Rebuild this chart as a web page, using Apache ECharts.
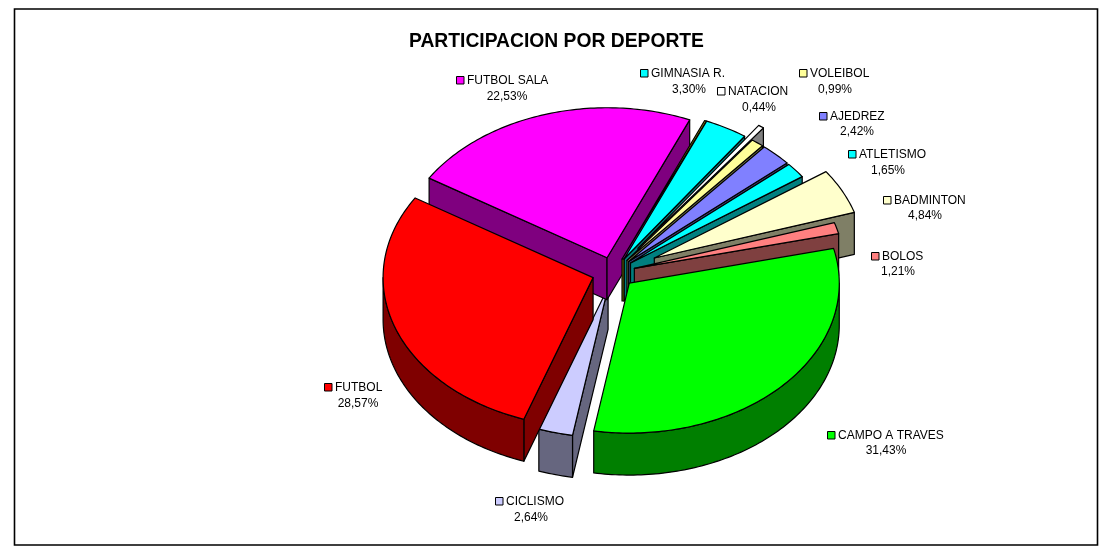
<!DOCTYPE html>
<html><head><meta charset="utf-8">
<style>html,body{margin:0;padding:0;background:#fff}#c{width:1106px;height:547px}</style>
<script src="https://cdn.jsdelivr.net/npm/echarts@6/dist/echarts.min.js"></script>
</head><body><div id="c"></div>
<script>
// Data, in the workbook's (clockwise) order
const categories = ['AJEDREZ','ATLETISMO','BADMINTON','BOLOS','CAMPO A TRAVES','CICLISMO','FUTBOL','FUTBOL SALA','GIMNASIA R.','NATACION','VOLEIBOL'];
const shares = [2.42,1.65,4.84,1.21,31.43,2.64,28.57,22.53,3.30,0.44,0.99];
const percentLabels = ['2,42%','1,65%','4,84%','1,21%','31,43%','2,64%','28,57%','22,53%','3,30%','0,44%','0,99%'];
const explosions = [0.103,0.103,0.217,0.103,0.103,0.103,0.103,0.103,0.103,0.2,0.103];
const colors = ['#8080FF','#00FFFF','#FFFFCC','#FF8080','#00FF00','#CCCCFF','#FF0000','#FF00FF','#00FFFF','#FFFFFF','#FFFF99'];
// Back-to-front painting order of the slices
const paintOrder = ['CICLISMO','FUTBOL SALA','GIMNASIA R.','NATACION','VOLEIBOL','AJEDREZ','ATLETISMO','BADMINTON','BOLOS','FUTBOL','CAMPO A TRAVES'];

// Layout of the projected pie
const PIE = {cx:613.5, cy:272.5, rx:210, ry:150, depth:42, rotation:40.2};
const FONT = 'Arial, "Liberation Sans", sans-serif';
// key left edge, centre of percent line, y of name line, y of percent line
const labelLayout = {
 'AJEDREZ':[819,857,117,132],'ATLETISMO':[848,888,155,171],'BADMINTON':[883,925,201,216],'BOLOS':[871,898,257,272],
 'CAMPO A TRAVES':[827,886,436,451],'CICLISMO':[495,531,502,518],'FUTBOL':[324,358,388,404],'FUTBOL SALA':[456,507,81,97],
 'GIMNASIA R.':[640,689,74,90],'NATACION':[717,759,92,108],'VOLEIBOL':[799,835,74,90]
};

const total = shares.reduce((a,b)=>a+b,0);
let acc = PIE.rotation;
const angles = shares.map(v=>{const s=acc; acc+=v/total*360; return [s,acc];});
function halve(hex){
  const n=parseInt(hex.slice(1),16);
  const c=[n>>16,(n>>8)&255,n&255].map(x=>Math.floor(x/2).toString(16).padStart(2,'0'));
  return '#'+c.join('');
}
const rad=d=>d*Math.PI/180;
const rim=(a,t,dy)=>[a[0]+PIE.rx*Math.sin(rad(t)), a[1]-PIE.ry*Math.cos(rad(t))+(dy||0)];
function arc(a,s,e,dy){const p=[];const n=Math.max(2,Math.ceil(e-s));for(let i=0;i<=n;i++)p.push(rim(a,s+(e-s)*i/n,dy));return p;}

function renderSlice(params,api){
  const name=paintOrder[params.dataIndex];
  const i=categories.indexOf(name);
  const s=api.value(1), e=api.value(2), ex=api.value(3);
  const m=rad((s+e)/2);
  const a=[PIE.cx+ex*PIE.rx*Math.sin(m), PIE.cy-ex*PIE.ry*Math.cos(m)];
  const d=PIE.depth, top=colors[i], wall=halve(top);
  const line={stroke:'#000',lineWidth:1.2,lineJoin:'round'};
  const poly=(pts,fill)=>({type:'polygon',shape:{points:pts},style:Object.assign({fill:fill},line)});
  const kids=[];
  const apexB=[a[0],a[1]+d];
  const sn=Math.sin(rad(s)), en=Math.sin(rad(e));
  if(sn<0) kids.push(poly([a,rim(a,s),rim(a,s,d),apexB],wall));
  if(en>0) kids.push(poly([a,rim(a,e),rim(a,e,d),apexB],wall));
  const os=Math.max(s,90), oe=Math.min(e,270);
  if(oe>os) kids.push(poly(arc(a,os,oe,0).concat(arc(a,os,oe,d).reverse()),wall));
  if(name==='GIMNASIA R.'){
    // thin olive sliver along the leading edge of this slice
    const b=[a[0]-2,a[1]];
    kids.push(poly([b,[b[0],b[1]+d],[a[0],a[1]+d],a],'#808000'));
    kids.push(poly([b,rim(a,s-0.6),rim(a,s)],'#808000'));
  }
  kids.push(poly([a].concat(arc(a,s,e,0)),top));
  return {type:'group',children:kids};
}
function renderLabel(params,api){
  const i=params.dataIndex, L=labelLayout[categories[i]];
  const t={fill:'#000',font:'12px '+FONT};
  return {type:'group',children:[
    {type:'rect',shape:{x:L[0]+.5,y:L[2]-4.5,width:7.5,height:7.5},style:{fill:colors[i],stroke:'#000',lineWidth:1}},
    {type:'text',style:Object.assign({text:categories[i],x:L[0]+11,y:L[2],align:'left',verticalAlign:'middle'},t)},
    {type:'text',style:Object.assign({text:percentLabels[i],x:L[1],y:L[3],align:'center',verticalAlign:'middle'},t)}
  ]};
}
const sliceData=paintOrder.map(n=>{const i=categories.indexOf(n);return {name:n,value:[shares[i],angles[i][0],angles[i][1],explosions[i]]};});
const chart=echarts.init(document.getElementById('c'),null,{renderer:'canvas'});
chart.setOption({
  animation:false,
  backgroundColor:'#fff',
  title:{text:'PARTICIPACION POR DEPORTE',left:409,top:32,textStyle:{fontFamily:FONT,fontSize:19.3,fontWeight:'bold',color:'#000'},padding:0},
  graphic:[{type:'rect',silent:true,shape:{x:14.5,y:9,width:1083,height:536},style:{fill:'none',stroke:'#000',lineWidth:1.6}}],
  series:[
    {type:'custom',coordinateSystem:'none',renderItem:renderSlice,data:sliceData,silent:true},
    {type:'custom',coordinateSystem:'none',renderItem:renderLabel,data:categories.map((n,i)=>({name:n,value:[shares[i]]})),silent:true,z:5}
  ]
});
</script></body></html>
